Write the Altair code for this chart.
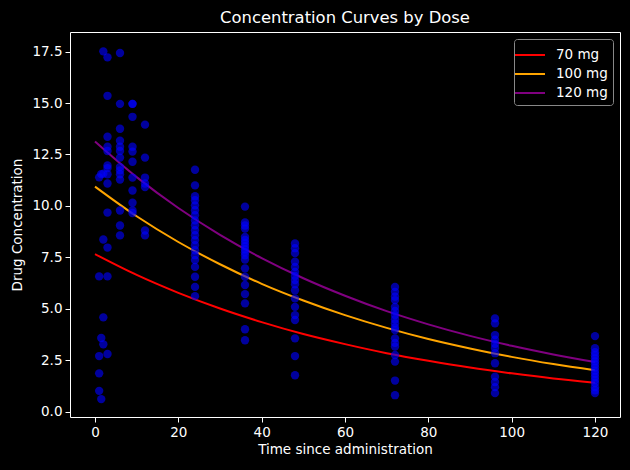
import altair as alt
import pandas as pd

FONT = "DejaVu Sans"

# Model curves for each dose, sampled every 10 h
doses = ["70 mg", "100 mg", "120 mg"]
dose_colors = ["red", "orange", "purple"]
curve_times = [0, 10, 20, 30, 40, 50, 60, 70, 80, 90, 100, 110, 120]
curve_70 = [7.66, 6.65, 5.78, 5.02, 4.36, 3.78, 3.29, 2.85, 2.48, 2.15, 1.87, 1.62, 1.41]
curve_100 = [10.94, 9.50, 8.25, 7.17, 6.22, 5.41, 4.70, 4.08, 3.54, 3.08, 2.67, 2.32, 2.02]
curve_120 = [13.13, 11.40, 9.90, 8.60, 7.47, 6.49, 5.64, 4.89, 4.25, 3.69, 3.21, 2.79, 2.42]

# Observed concentrations, grouped by sampling time (h)
conc_t1 = [11.39, 6.58, 2.71, 1.87, 1.02]
conc_t1_5 = [11.55, 3.59, 0.62]
conc_t2 = [17.51, 11.57, 8.37, 4.59, 3.28]
conc_t3 = [17.22, 15.35, 13.36, 12.88, 12.67, 11.97, 11.84, 11.54, 11.09, 9.68, 7.98, 6.58, 2.81]
conc_t6 = [17.43, 14.96, 13.75, 13.17, 12.88, 12.67, 12.35, 11.89, 11.73, 11.54, 11.28, 9.78, 9.05, 8.57]
conc_t9 = [14.96, 14.96, 14.33, 12.88, 12.64, 12.15, 11.38, 10.75, 10.16, 9.78, 9.66]
conc_t12 = [13.95, 12.35, 11.38, 11.09, 10.92, 8.81, 8.57]
conc_t24 = [11.76, 11.00, 10.47, 10.28, 10.03, 9.79, 9.55, 9.30, 9.06, 8.82, 8.58, 8.34,
            8.09, 7.85, 7.61, 7.37, 7.04, 6.56, 6.07, 5.62]
conc_t36 = [9.97, 9.20, 9.05, 8.90, 8.50, 8.35, 8.20, 8.05, 7.90, 7.75, 7.60, 7.40,
            6.97, 6.56, 6.16, 5.72, 5.27, 4.01, 3.48]
conc_t48 = [8.18, 7.95, 7.71, 7.29, 7.04, 6.80, 6.60, 6.40, 6.20, 5.91, 5.51, 5.10,
            4.70, 4.46, 3.57, 2.71, 1.78]
conc_t72 = [6.07, 5.83, 5.60, 5.43, 5.10, 4.90, 4.70, 4.50, 4.30, 4.10, 3.97, 3.57,
            3.35, 3.17, 2.76, 2.44, 1.52, 0.81]
conc_t96 = [4.54, 4.30, 3.73, 3.50, 3.30, 3.10, 2.85, 2.36, 1.71, 1.45, 1.20, 0.91]
conc_t120 = [3.68, 3.09, 2.90, 2.75, 2.60, 2.45, 2.30, 2.15, 2.00, 1.85, 1.70, 1.55,
             1.40, 1.20, 1.05, 0.91]

x_ticks = [0, 20, 40, 60, 80, 100, 120]
y_ticks = [0, 2.5, 5, 7.5, 10, 12.5, 15, 17.5]

obs_groups = [
    (1, conc_t1), (1.5, conc_t1_5), (2, conc_t2), (3, conc_t3), (6, conc_t6),
    (9, conc_t9), (12, conc_t12), (24, conc_t24), (36, conc_t36), (48, conc_t48),
    (72, conc_t72), (96, conc_t96), (120, conc_t120),
]
obs = pd.DataFrame(
    [{"time": t, "conc": c} for t, values in obs_groups for c in values]
)

curves = pd.DataFrame(
    [
        {"time": t, "conc": c, "dose": d, "order": i}
        for i, (d, series) in enumerate(zip(doses, [curve_70, curve_100, curve_120]))
        for t, c in zip(curve_times, series)
    ]
)

x_scale = alt.Scale(domain=[-6, 126], nice=False, zero=False)
y_scale = alt.Scale(domain=[-0.25, 18.45], nice=False, zero=False)

x_axis = alt.Axis(
    values=x_ticks, format="d", title="Time since administration", grid=False,
    tickColor="white", tickSize=5, tickWidth=1, domain=False,
    labelColor="white", labelFont=FONT, labelFontSize=13.5, labelPadding=3,
    titleColor="white", titleFont=FONT, titleFontSize=13.5, titleFontWeight="normal",
    titlePadding=4,
)
y_axis = alt.Axis(
    values=y_ticks, format=".1f", title="Drug Concentration", grid=False,
    tickColor="white", tickSize=5, tickWidth=1, domain=False,
    labelColor="white", labelFont=FONT, labelFontSize=13.5, labelPadding=3,
    titleColor="white", titleFont=FONT, titleFontSize=13.5, titleFontWeight="normal",
    titlePadding=7,
)

lines = alt.Chart(curves).mark_line(strokeWidth=2, interpolate="monotone").encode(
    x=alt.X("time:Q", scale=x_scale, axis=x_axis),
    y=alt.Y("conc:Q", scale=y_scale, axis=y_axis),
    color=alt.Color(
        "dose:N",
        scale=alt.Scale(domain=doses, range=dose_colors),
        sort=doses,
        legend=alt.Legend(
            title=None, orient="none", legendX=444, legendY=7,
            symbolType="M-1.5,0L1.5,0", symbolSize=400, symbolStrokeWidth=2,
            labelColor="white", labelFont=FONT, labelFontSize=13.5, labelOffset=15,
            rowPadding=1, padding=5, strokeColor="#888888", fillColor="black",
            cornerRadius=3,
        ),
    ),
    order="order:Q",
    detail="dose:N",
)

points = alt.Chart(obs).mark_circle(size=70, color="blue", opacity=0.62).encode(
    x=alt.X("time:Q", scale=x_scale),
    y=alt.Y("conc:Q", scale=y_scale),
)

chart = (
    alt.layer(lines, points)
    .properties(
        width=550,
        height=385,
        autosize=alt.AutoSizeParams(type="none"),
        padding={"left": 70, "top": 32, "right": 10, "bottom": 53},
        background="black",
        title=alt.TitleParams(
            "Concentration Curves by Dose", color="white", font=FONT,
            fontSize=16.4, fontWeight="normal", anchor="middle", offset=6,
        ),
    )
    .configure_view(stroke="white", strokeWidth=1)
)

chart.save("out.html", embed_options={"renderer": "svg", "actions": False})
